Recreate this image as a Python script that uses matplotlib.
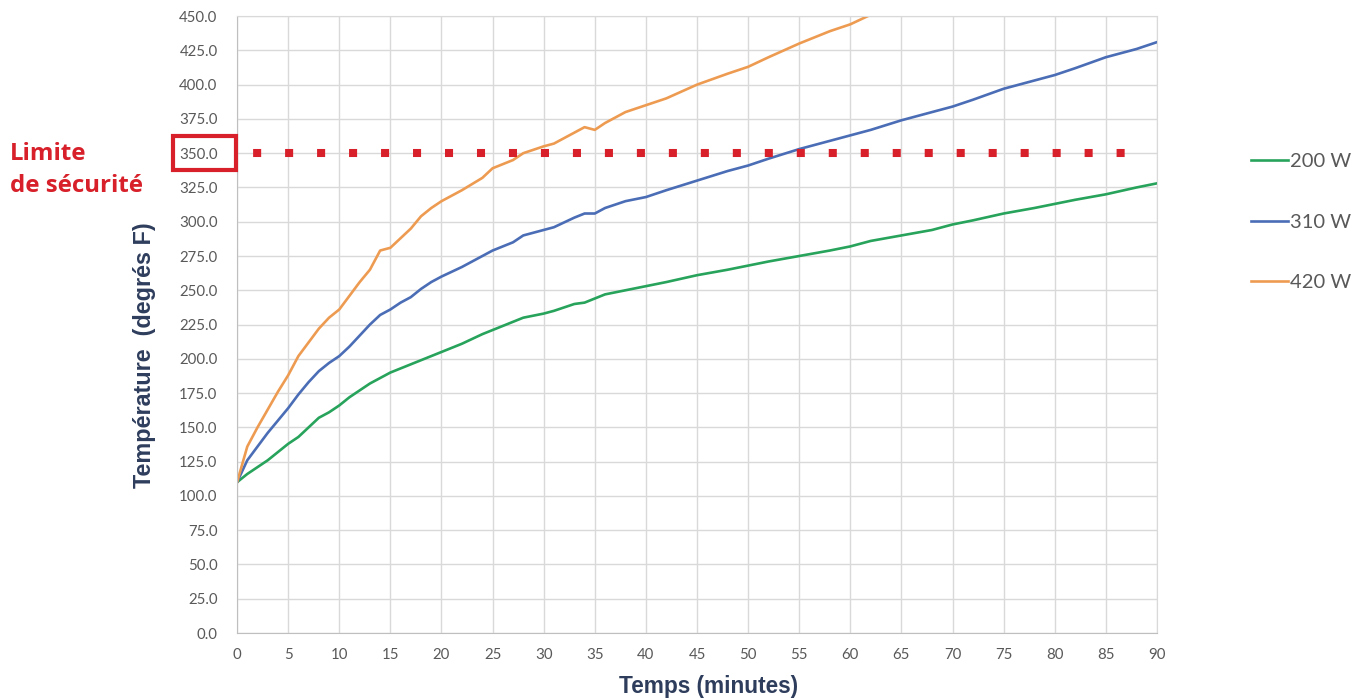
import matplotlib.pyplot as plt
from matplotlib.patches import Rectangle

# temps en minutes
temps = [0, 1, 2, 3, 4, 5, 6, 7, 8, 9, 10, 11, 12, 13, 14, 15, 16, 17, 18, 19, 20,
         22, 24, 25, 27, 28, 30, 31, 33, 34, 35, 36, 38, 40, 42, 45, 48, 50, 52, 55,
         58, 60, 62, 65, 68, 70, 72, 75, 78, 80, 82, 85, 88, 90]

temp_200 = [110, 116, 121, 126, 132, 138, 143, 150, 157, 161, 166, 172, 177, 182, 186,
            190, 193, 196, 199, 202, 205, 211, 218, 221, 227, 230, 233, 235, 240, 241,
            244, 247, 250, 253, 256, 261, 265, 268, 271, 275, 279, 282, 286, 290, 294,
            298, 301, 306, 310, 313, 316, 320, 325, 328]

temp_310 = [110, 126, 136, 146, 155, 164, 174, 183, 191, 197, 202, 209, 217, 225, 232,
            236, 241, 245, 251, 256, 260, 267, 275, 279, 285, 290, 294, 296, 303, 306,
            306, 310, 315, 318, 323, 330, 337, 341, 346, 353, 359, 363, 367, 374, 380,
            384, 389, 397, 403, 407, 412, 420, 426, 431]

# 420 W sort du cadre vers 62 min
temp_420 = [110, 136, 150, 163, 176, 188, 202, 212, 222, 230, 236, 246, 256, 265, 279,
            281, 288, 295, 304, 310, 315, 323, 332, 339, 345, 350, 355, 357, 365, 369,
            367, 372, 380, 385, 390, 400, 408, 413, 420, 430, 439, 444, 451]

limite = 350.0
limite_fin = 88.6

fig = plt.figure(figsize=(13.64, 7.0), dpi=100)
ax = fig.add_axes([0.1738, 0.0957, 0.6744, 0.8813])

ax.plot(temps, temp_200, color="#27a35b", lw=1.9, label="200 W")
ax.plot(temps, temp_310, color="#4a6db6", lw=1.9, label="310 W")
ax.plot(temps[:len(temp_420)], temp_420, color="#ee9b52", lw=1.9, label="420 W")

ax.plot([0, limite_fin], [limite, limite], color="#d7202a", lw=5.8,
        linestyle=(1.97, (1, 2.97)), dash_capstyle="butt")

ax.set_xlim(0, 90)
ax.set_ylim(0, 450)
ax.set_xticks(range(0, 91, 5))
ax.set_yticks(range(0, 451, 25))
ax.set_yticklabels(["{:.1f}".format(v) for v in range(0, 451, 25)])
ax.tick_params(length=0, labelsize=10.8, colors="#595959")
ax.tick_params(axis="y", pad=14)
ax.tick_params(axis="x", pad=11)
for lab in ax.get_xticklabels() + ax.get_yticklabels():
    lab.set_family("Lato")

ax.grid(True, color="#d9d9d9", lw=1)
ax.set_axisbelow(True)
for s in ax.spines.values():
    s.set_color("#d9d9d9")
ax.spines["bottom"].set_color("#bfbfbf")
ax.spines["left"].set_color("#bfbfbf")

ax.set_xlabel("Temps (minutes)", fontsize=16.3, fontweight="bold",
              color="#2e3d5c", family="Liberation Sans")
ax.set_ylabel("Température  (degrés F)", fontsize=16.8, fontweight="bold",
              color="#2e3d5c", family="Liberation Sans")
ax.xaxis.set_label_coords(0.513, -0.0875)
ax.yaxis.set_label_coords(-0.101, 0.4506)
for lbl in (ax.xaxis.label, ax.yaxis.label):
    lbl.set_verticalalignment("center")
    lbl.set_horizontalalignment("center")
    lbl.set_rotation_mode("default")

leg = ax.legend(loc="upper left", bbox_to_anchor=(1.0826, 0.807), frameon=False,
                labelspacing=2.15, handlelength=1.85, handletextpad=0.1,
                prop={"family": "Lato", "size": 14.5})
for t in leg.get_texts():
    t.set_color("#595959")

# cadre rouge autour de 350.0
fig.patches.append(Rectangle((173 / 1364, 1 - 170 / 700), 63 / 1364, 34 / 700,
                             transform=fig.transFigure, fill=False,
                             edgecolor="#d7202a", lw=3))
fig.text(10 / 1364, 1 - 170 / 700, "Limite\nde sécurité", color="#d7202a",
         fontsize=17.3, fontweight="bold", family="Open Sans", va="center",
         ha="left", linespacing=1.4)

fig.savefig("out.png", dpi=100)
